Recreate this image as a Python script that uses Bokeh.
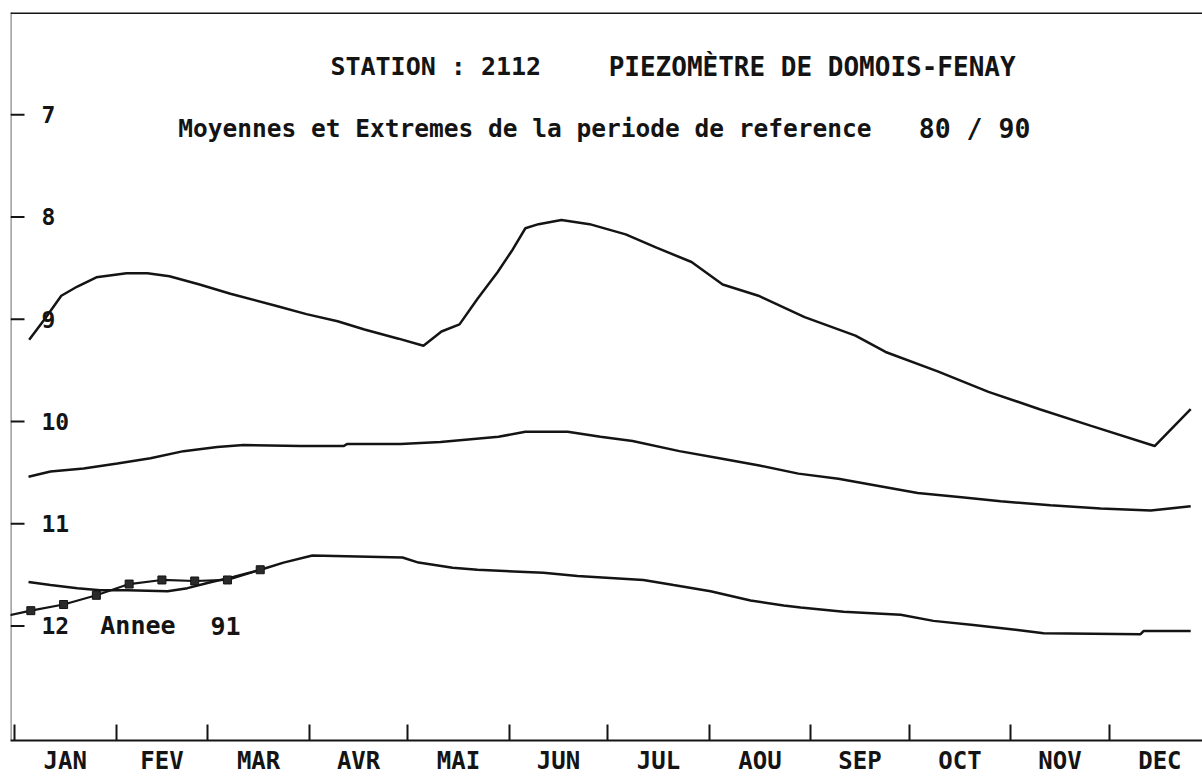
from bokeh.plotting import figure
from bokeh.models import Range1d, LinearAxis, FixedTicker, Span
from bokeh.embed import file_html
from bokeh.resources import INLINE
from bokeh.core.properties import value

# ---------------- data (day of year, depth of water level in m) ----------------
max_day = [4.5, 9.2, 14.3, 19.2, 25.0, 34.2, 40.6, 47.3, 56.5, 65.9, 80.0, 89.1, 98.6,
           106.8, 117.2, 124.8, 130.3, 135.8, 141.3, 147.4, 152.0, 155.9, 159.9, 166.9,
           175.5, 186.5, 195.9, 206.6, 216.1, 227.0, 241.1, 256.6, 265.8, 281.7, 297.2,
           312.8, 328.3, 347.9, 358.9]
max_level = [9.20, 9.00, 8.77, 8.68, 8.59, 8.55, 8.55, 8.58, 8.66, 8.75, 8.87, 8.95, 9.02,
             9.10, 9.19, 9.26, 9.12, 9.05, 8.80, 8.54, 8.32, 8.11, 8.07, 8.03,
             8.07, 8.17, 8.30, 8.44, 8.66, 8.77, 8.98, 9.16, 9.32, 9.51, 9.71,
             9.88, 10.04, 10.24, 9.88]

mean_day = [4.3, 11.0, 21.1, 31.4, 41.5, 51.6, 61.9, 69.9, 87.3, 100.4, 101.6, 117.8,
            130.0, 147.7, 155.9, 168.8, 178.8, 188.6, 202.9, 215.1, 227.3, 239.2, 251.4,
            263.7, 275.6, 289.0, 300.9, 316.1, 331.4, 346.7, 358.9]
mean_level = [10.54, 10.49, 10.46, 10.41, 10.36, 10.29, 10.25, 10.23, 10.24, 10.24, 10.22, 10.22,
              10.20, 10.15, 10.10, 10.10, 10.15, 10.19, 10.29, 10.36, 10.43, 10.51, 10.56,
              10.63, 10.70, 10.74, 10.78, 10.82, 10.85, 10.87, 10.83]

min_day = [4.3, 11.0, 19.2, 26.2, 34.5, 46.7, 52.8, 58.9, 66.8, 75.1, 82.1, 90.9, 118.4,
           123.3, 133.7, 141.3, 161.4, 171.8, 191.9, 201.1, 212.4, 224.6, 234.7, 239.9,
           253.0, 270.4, 280.4, 292.6, 306.1, 314.0, 343.6, 344.5, 358.9]
min_level = [11.57, 11.60, 11.63, 11.65, 11.65, 11.66, 11.63, 11.58, 11.52, 11.45, 11.38, 11.31, 11.33,
             11.38, 11.43, 11.45, 11.48, 11.51, 11.55, 11.60, 11.66, 11.75, 11.80, 11.82,
             11.86, 11.89, 11.95, 11.99, 12.04, 12.07, 12.08, 12.05, 12.05]

year91_day = [-5, 5, 15, 25, 35, 45, 55, 65, 75]
year91_level = [11.92, 11.85, 11.79, 11.70, 11.59, 11.55, 11.56, 11.55, 11.45]

month_labels = ["JAN", "FEV", "MAR", "AVR", "MAI", "JUN", "JUL", "AOU", "SEP", "OCT", "NOV", "DEC"]
month_start = [0, 31, 59, 90, 120, 151, 181, 212, 243, 273, 304, 334, 365]
y_ticks = [7, 8, 9, 10, 11, 12]
y_tick_labels = ["7", "8", "9", "10", "11", "12"]

title_left = "STATION : 2112"
title_right = "PIEZOMÈTRE DE DOMOIS-FENAY"
subtitle_left = "Moyennes et Extremes de la periode de reference"
subtitle_right = "80 / 90"
year_word = "Annee"
year_value = "91"

# ---------------- layout ----------------
FONT = "DejaVu Sans Mono"
INK = "#141414"
X0, X1 = -1.2, 362.5
Y_BOTTOM, Y_TOP = 13.12, 6.0
W, H = 1202, 777
B_LEFT, B_TOP, B_BOTTOM = 10, 12, 34
TICK_PX = 14
tick_len = TICK_PX * (X1 - X0) / (W - B_LEFT)

month_mid = [(a + b) / 2 for a, b in zip(month_start[:-1], month_start[1:])]

p = figure(width=W, height=H, output_backend="svg", toolbar_location=None,
           x_range=Range1d(X0, X1), y_range=Range1d(Y_BOTTOM, Y_TOP),
           x_axis_location=None, y_axis_location=None,
           min_border_left=B_LEFT, min_border_right=0, min_border_top=B_TOP,
           min_border_bottom=B_BOTTOM)
p.outline_line_color = None
p.background_fill_color = "white"
p.border_fill_color = "white"
for g in p.grid:
    g.visible = False

xaxis = LinearAxis(ticker=FixedTicker(ticks=month_mid, minor_ticks=month_start),
                   major_label_overrides={m: l for m, l in zip(month_mid, month_labels)},
                   major_tick_in=0, major_tick_out=0, minor_tick_in=16, minor_tick_out=0,
                   minor_tick_line_width=2, minor_tick_line_color=INK,
                   axis_line_width=2, axis_line_color=INK, major_label_standoff=6,
                   major_label_text_font=FONT, major_label_text_font_style="bold",
                   major_label_text_font_size="24px", major_label_text_color=INK)
p.add_layout(xaxis, "below")

# frame: dotted left border, solid top border
p.add_layout(Span(location=X0, dimension="height", line_color=INK, line_width=2.5,
                  line_dash="1 1"))
p.add_layout(Span(location=Y_TOP, dimension="width", line_color=INK, line_width=3))

# depth ticks on the left border, pointing inwards
p.segment(x0=[X0] * len(y_ticks), x1=[X0 + tick_len] * len(y_ticks), y0=y_ticks,
          y1=y_ticks, line_color=INK, line_width=2)

# curves
p.line(max_day, max_level, line_width=2.5, line_color=INK)
p.line(mean_day, mean_level, line_width=2.5, line_color=INK)
p.line(min_day, min_level, line_width=2.5, line_color=INK)
p.line(year91_day, year91_level, line_width=2.2, line_color=INK)
p.scatter(year91_day, year91_level, marker="square", size=8, fill_color="#2a2a2a",
          line_color=INK)

# y tick labels, inside the frame
p.text(x=[X0] * len(y_ticks), y=y_ticks, text=y_tick_labels, x_offset=31,
       text_font=value(FONT), text_font_style="bold", text_font_size="23px",
       text_baseline="middle", text_align="left", text_color=INK)

# titles
p.text(x=[96.4], y=[6.53], text=[title_left],
       text_font=value(FONT), text_font_style="bold", text_font_size="25px",
       text_baseline="middle", text_align="left", text_color=INK)
p.text(x=[181.3], y=[6.53], text=[title_right],
       text_font=value(FONT), text_font_style="bold", text_font_size="26px",
       text_baseline="middle", text_align="left", text_color=INK)
p.text(x=[50.0], y=[7.13], text=[subtitle_left],
       text_font=value(FONT), text_font_style="bold", text_font_size="24.5px",
       text_baseline="middle", text_align="left", text_color=INK)
p.text(x=[275.9], y=[7.13], text=[subtitle_right],
       text_font=value(FONT), text_font_style="bold", text_font_size="26.5px",
       text_baseline="middle", text_align="left", text_color=INK)
p.text(x=[26.2, 59.8], y=[12.0, 12.0], text=[year_word, year_value],
       text_font=value(FONT), text_font_style="bold", text_font_size="25px",
       text_baseline="middle", text_align="left", text_color=INK)

open("out.html", "w").write(file_html(p, INLINE))
